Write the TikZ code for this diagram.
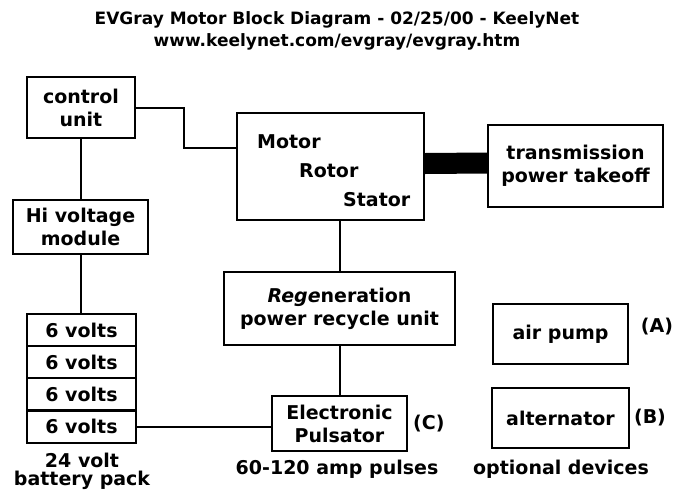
\documentclass[tikz,border=0pt]{standalone}
\usepackage{fontspec}
\setmainfont{DejaVu Sans}
\usetikzlibrary{positioning}
\begin{document}
\begin{tikzpicture}[x=1pt, y=1pt,
    every node/.style={font=\fontsize{19}{23}\selectfont\bfseries, inner sep=0pt},
    blockbox/.style={draw, line width=2pt, align=center},
    cellbox/.style={draw, line width=2pt, minimum width=109pt, minimum height=32pt},
    wire/.style={line width=2pt}]
  \useasboundingbox (0,0) rectangle (673,-491);
  \node[align=center, font=\fontsize{17}{22}\selectfont\bfseries] (title) at (337,-31)
    {EVGray Motor Block Diagram - 02/25/00 - KeelyNet\\www.keelynet.com/evgray/evgray.htm};

  % left column: control, high voltage, battery cells
  \node[blockbox, minimum width=108pt, minimum height=61pt] (ctrl) at (81,-107.5) {control\\unit};
  \node[blockbox, minimum width=135pt, minimum height=54pt] (hiv) at (80.5,-227) {Hi voltage\\module};
  \foreach \i in {1,...,4}
    \node[cellbox] (cell\i) at (81.5,{-330-32.2*(\i-1)}) {6 volts};
  \node[align=center, font=\fontsize{19}{18}\selectfont\bfseries] (pack) at (82,-471) {24 volt\\battery pack};

  % motor and drive
  \node[blockbox, minimum width=187pt, minimum height=107pt] (motor) at (330.5,-166.5) {};
  \node[anchor=west] (mtxt) at (257,-142) {Motor};
  \node[anchor=west] (rtxt) at (299,-171) {Rotor};
  \node[anchor=west] (stxt) at (343,-200) {Stator};
  \node[blockbox, minimum width=175pt, minimum height=82pt] (trans) at (575.5,-166) {transmission\\power takeoff};
  \draw[line width=21pt] ([yshift=3pt]motor.east) -- ([yshift=3pt]trans.west);

  \node[blockbox, minimum width=231pt, minimum height=73pt] (regen) at (339.5,-308.5)
    {\textit{Rege}neration\\power recycle unit};
  \node[blockbox, minimum width=135pt, minimum height=55pt] (puls) at (339.5,-423.5) {Electronic\\Pulsator};
  \node[right=5pt of puls] (clab) {(C)};
  \node (amps) at (337,-469) {60-120 amp pulses};

  % optional devices
  \node[blockbox, minimum width=135pt, minimum height=60pt] (pump) at (560.5,-334) {air pump};
  \node (alab) at (657,-327) {(A)};
  \node[blockbox, minimum width=137pt, minimum height=60pt] (alt) at (560.5,-418) {alternator};
  \node (blab) at (650,-418) {(B)};
  \node (opt) at (561,-469) {optional devices};

  % connectors
  \coordinate (bend) at (184,-148);
  \draw[wire] (ctrl.east) -| (bend) -- (bend -| motor.west);
  \draw[wire] (ctrl.south) -- (ctrl.south |- hiv.north);
  \draw[wire] (hiv.south) -- (hiv.south |- cell1.north);
  \draw[wire] (motor.south -| regen.north) -- (regen.north);
  \draw[wire] (regen.south) -- (puls.north);
  \draw[wire] (cell4.east) -- (cell4.east -| puls.west);
\end{tikzpicture}
\end{document}
